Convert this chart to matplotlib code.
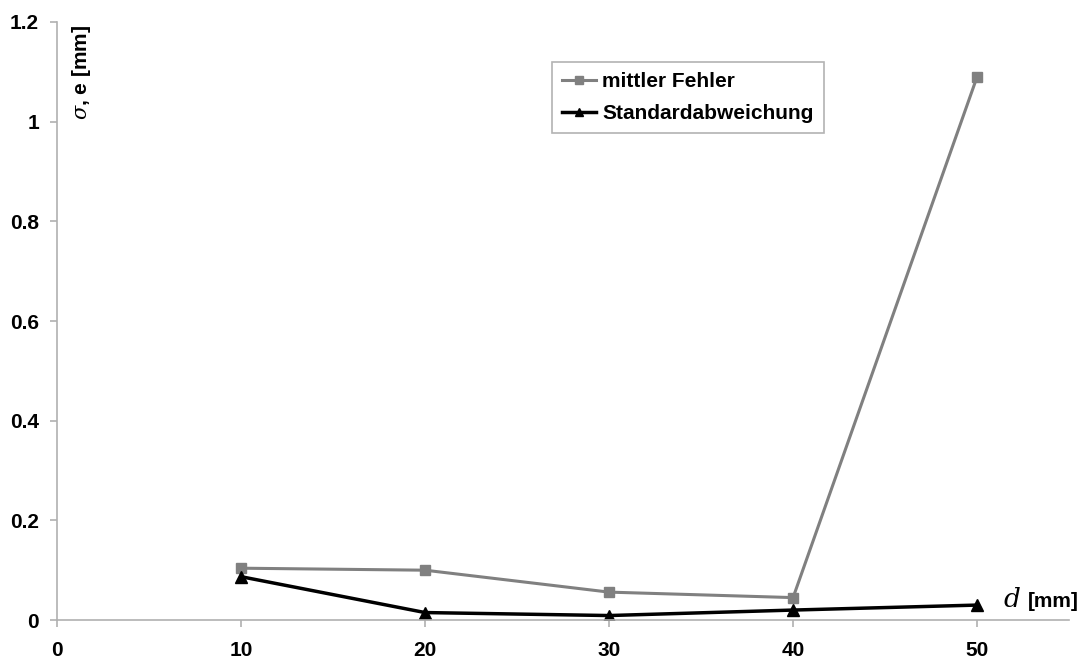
import matplotlib
matplotlib.use('Agg')
import matplotlib.pyplot as plt

plt.rcParams['font.family'] = ['Liberation Sans', 'DejaVu Sans']
plt.rcParams['mathtext.fontset'] = 'dejavuserif'

d_vals = [10, 20, 30, 40, 50]
mittler_fehler = [0.104, 0.100, 0.056, 0.045, 1.090]
std_abw = [0.087, 0.015, 0.009, 0.020, 0.030]
x_ticks = [0, 10, 20, 30, 40, 50]
y_ticks = [0, 0.2, 0.4, 0.6, 0.8, 1.0, 1.2]
y_labels = ['0', '0.2', '0.4', '0.6', '0.8', '1', '1.2']

fig = plt.figure(figsize=(10.81, 6.62), dpi=100)
ax = fig.add_axes([0.0527, 0.0634, 0.9363, 0.9034])

ax.plot(d_vals, mittler_fehler, color='#808080', lw=2.2, marker='s', ms=7,
        label='mittler Fehler')
ax.plot(d_vals, std_abw, color='black', lw=2.5, marker='^', ms=8,
        label='Standardabweichung')

ax.set_xlim(0, 55)
ax.set_ylim(0, 1.2)
ax.set_xticks(x_ticks)
ax.set_yticks(y_ticks)
ax.set_yticklabels(y_labels)

for s in ['top', 'right']:
    ax.spines[s].set_visible(False)
for s in ['left', 'bottom']:
    ax.spines[s].set_color('#b0b0b0')
    ax.spines[s].set_linewidth(1.2)

ax.tick_params(axis='both', colors='#b0b0b0', length=5, width=1.2,
               labelsize=15, labelcolor='black')
ax.tick_params(axis='x', pad=10)
ax.tick_params(axis='y', pad=8)
for lbl in ax.get_xticklabels() + ax.get_yticklabels():
    lbl.set_fontweight('bold')

fig.text(0.075, 0.962, r'$\sigma$, e [mm]', rotation=90, va='top', ha='center',
         fontsize=15, fontweight='bold')
ax.text(0.928, 0.083, '$d$', transform=fig.transFigure, fontsize=19,
        va='baseline', ha='left')
ax.text(0.951, 0.083, '[mm]', transform=fig.transFigure, fontsize=15,
        fontweight='bold', va='baseline', ha='left')

leg = ax.legend(loc='upper left', bbox_to_anchor=(0.5106, 0.9063),
                bbox_transform=fig.transFigure, fancybox=False,
                edgecolor='#a0a0a0', prop={'weight': 'bold', 'size': 15},
                handlelength=1.6, handletextpad=0.3, labelspacing=0.6,
                borderpad=0.5, borderaxespad=0, markerscale=0.8)
leg.get_frame().set_linewidth(1.2)

fig.savefig('out.png', dpi=100)
